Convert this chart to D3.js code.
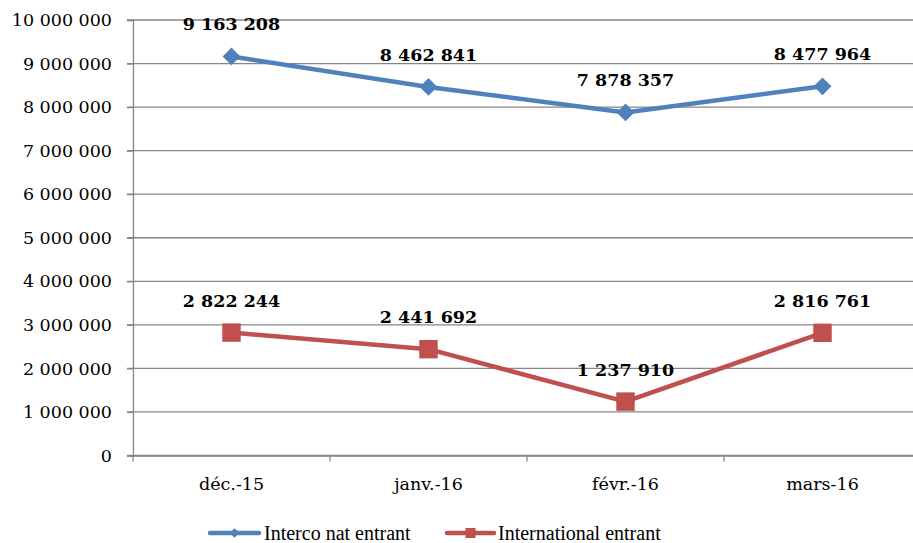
<!DOCTYPE html>
<html><head><meta charset="utf-8">
<script src="https://cdn.jsdelivr.net/npm/d3@7"></script>
<style>body{margin:0;background:#fff}svg{display:block}</style>
</head><body><svg id="c" width="913" height="543"></svg>
<script>
const categories = ["déc.-15", "janv.-16", "févr.-16", "mars-16"];
const seriesNames = ["Interco nat entrant", "International entrant"];
const interco = [9163208, 8462841, 7878357, 8477964];
const international = [2822244, 2441692, 1237910, 2816761];
const yTicks = [0,1000000,2000000,3000000,4000000,5000000,6000000,7000000,8000000,9000000,10000000];
const colors = ["#4F81BD", "#C0504D"];

(function () {
const svg = d3.select("#c");
const font = "'DejaVu Serif', serif";
const pL = 133, pR = 921, pT = 20, pB = 455.5;
const x = d3.scaleBand().domain(categories).range([pL, pR]);
const y = d3.scaleLinear().domain([0, 10000000]).range([pB, pT]);
const fmt = v => d3.format(",")(v).replace(/,/g, " ");

// gridlines
svg.append("g").selectAll("line").data(yTicks).join("line")
  .attr("x1", pL - 6).attr("x2", pR).attr("y1", d => y(d)).attr("y2", d => y(d))
  .attr("stroke", "#868686").attr("stroke-width", 1.3);

// y axis
const ya = svg.append("g").attr("transform", `translate(${pL},0)`)
  .call(d3.axisLeft(y).tickValues(yTicks).tickFormat(fmt).tickSize(6).tickPadding(15));
ya.select(".domain").attr("stroke", "#868686").attr("stroke-width", 1.3);
ya.selectAll(".tick line").attr("stroke", "#868686").attr("stroke-width", 1.3);
ya.selectAll("text").attr("font-family", font).attr("font-size", 17.5).attr("fill", "#000");

// x axis
const xa = svg.append("g").attr("transform", `translate(0,${pB})`)
  .call(d3.axisBottom(x).tickSize(0).tickPadding(22));
xa.select(".domain").attr("stroke", "#868686").attr("stroke-width", 1.3);
xa.selectAll("text").attr("font-family", font).attr("font-size", 17.5).attr("fill", "#000");
svg.append("g").selectAll("line").data(d3.range(categories.length + 1)).join("line")
  .attr("x1", i => pL + i * x.step()).attr("x2", i => pL + i * x.step())
  .attr("y1", pB).attr("y2", pB + 6).attr("stroke", "#868686").attr("stroke-width", 1.3);

const cx = c => x(c) + x.bandwidth() / 2;
const data = [interco, international];
data.forEach((vals, si) => {
  const pts = categories.map((c, i) => [cx(c), y(vals[i])]);
  svg.append("path").attr("d", d3.line()(pts)).attr("fill", "none")
    .attr("stroke", colors[si]).attr("stroke-width", 4.5).attr("stroke-linejoin", "round");
  const sym = si === 0 ? d3.symbol().type(d3.symbolDiamond2).size(200) : d3.symbol().type(d3.symbolSquare).size(340);
  svg.append("g").selectAll("path").data(pts).join("path")
    .attr("d", sym).attr("transform", p => `translate(${p[0]},${p[1]})`).attr("fill", colors[si]);
  svg.append("g").selectAll("text").data(vals).join("text")
    .attr("x", (v, i) => cx(categories[i])).attr("y", v => y(v) - 26)
    .attr("text-anchor", "middle").attr("font-family", font).attr("font-weight", "bold")
    .attr("font-size", 17.5).text(fmt);
});

// legend
const leg = [[210, 259, 264], [447, 494, 498]];
seriesNames.forEach((n, si) => {
  const [a, b, t] = leg[si];
  const ly = 533;
  svg.append("line").attr("x1", a).attr("x2", b).attr("y1", ly).attr("y2", ly)
    .attr("stroke", colors[si]).attr("stroke-width", 4.5).attr("stroke-linecap", "round");
  const sym = si === 0 ? d3.symbol().type(d3.symbolDiamond2).size(60) : d3.symbol().type(d3.symbolSquare).size(100);
  svg.append("path").attr("d", sym).attr("transform", `translate(${(a + b) / 2},${ly})`).attr("fill", colors[si]);
  svg.append("text").attr("x", t).attr("y", ly + 7).attr("font-family", "'Liberation Serif', serif")
    .attr("font-size", 20).text(n);
});
})();
</script></body></html>
